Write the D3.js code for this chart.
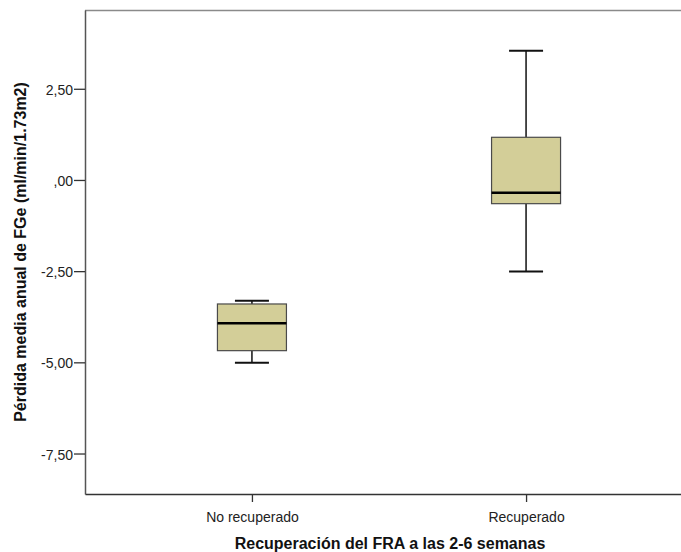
<!DOCTYPE html>
<html>
<head>
<meta charset="utf-8">
<script src="https://cdn.jsdelivr.net/npm/d3@7/dist/d3.min.js"></script>
<style>
  body { margin: 0; background: #fff; }
  svg { display: block; }
</style>
</head>
<body>
<svg id="chart" width="681" height="552"></svg>
<script>
// Groups and box-plot summaries (min, Q1, median, Q3, max)
const categories = ["No recuperado", "Recuperado"];
const whiskerLow  = [-5.01, -2.51];
const quartile1   = [-4.68, -0.65];
const medians     = [-3.93, -0.35];
const quartile3   = [-3.40,  1.17];
const whiskerHigh = [-3.31,  3.54];
const yTicks = [2.5, 0, -2.5, -5, -7.5];
const yTitle = "Pérdida media anual de FGe (ml/min/1.73m2)";
const xTitle = "Recuperación del FRA a las 2-6 semanas";

const boxes = categories.map((c, i) => ({
  cat: c, lo: whiskerLow[i], q1: quartile1[i], med: medians[i], q3: quartile3[i], hi: whiskerHigh[i]
}));

const svg = d3.select("#chart");
const plotLeft = 85, plotTop = 10, plotBottom = 494, plotRight = 693;
const font = "'Liberation Sans', Arial, sans-serif";

const y = d3.scaleLinear().domain([-8.61, 4.66]).range([plotBottom, plotTop]);
const x = d3.scalePoint().domain(categories).range([plotLeft, plotRight]).padding(0.609);

const boxW = 69, capW = 34;

// frame (top border gray, right side runs off the canvas)
svg.append("line").attr("x1", plotLeft).attr("x2", 681).attr("y1", plotTop + 0.5).attr("y2", plotTop + 0.5)
  .attr("stroke", "#8a8a8a").attr("stroke-width", 1.5);

// y axis
const fmt = v => v === 0 ? ",00" : d3.format(".2f")(v).replace("−", "-").replace(".", ",");
const yAxis = svg.append("g").attr("transform", `translate(${plotLeft},0)`)
  .call(d3.axisLeft(y).tickValues(yTicks).tickSize(11).tickSizeOuter(0).tickFormat(fmt));
yAxis.select(".domain").attr("stroke", "#555").attr("stroke-width", 1.5);
yAxis.selectAll(".tick line").attr("stroke", "#333").attr("stroke-width", 1.3);
yAxis.selectAll(".tick text").attr("font-family", font)
  .attr("font-size", 14).attr("fill", "#222").attr("x", -12).attr("dy", "0.4em");

// x axis
const xAxis = svg.append("g").attr("transform", `translate(0,${plotBottom})`)
  .call(d3.axisBottom(x).tickSize(8).tickSizeOuter(0));
xAxis.select(".domain").attr("stroke", "#333").attr("stroke-width", 1.5);
xAxis.selectAll(".tick line").attr("stroke", "#333").attr("stroke-width", 1.3);
xAxis.selectAll(".tick text").attr("font-family", font)
  .attr("font-size", 14).attr("fill", "#222").attr("y", 28).attr("dy", 0);

// box plots
const g = svg.append("g");
const b = g.selectAll("g.box").data(boxes).join("g").attr("class", "box");

b.append("line").attr("x1", d => x(d.cat)).attr("x2", d => x(d.cat))
  .attr("y1", d => y(d.hi)).attr("y2", d => y(d.q3)).attr("stroke", "#111").attr("stroke-width", 1.5);
b.append("line").attr("x1", d => x(d.cat)).attr("x2", d => x(d.cat))
  .attr("y1", d => y(d.q1)).attr("y2", d => y(d.lo)).attr("stroke", "#111").attr("stroke-width", 1.5);
b.append("line").attr("x1", d => x(d.cat) - capW / 2).attr("x2", d => x(d.cat) + capW / 2)
  .attr("y1", d => y(d.hi)).attr("y2", d => y(d.hi)).attr("stroke", "#111").attr("stroke-width", 2);
b.append("line").attr("x1", d => x(d.cat) - capW / 2).attr("x2", d => x(d.cat) + capW / 2)
  .attr("y1", d => y(d.lo)).attr("y2", d => y(d.lo)).attr("stroke", "#111").attr("stroke-width", 2);
b.append("rect").attr("x", d => x(d.cat) - boxW / 2).attr("width", boxW)
  .attr("y", d => y(d.q3)).attr("height", d => y(d.q1) - y(d.q3))
  .attr("fill", "#d3ce98").attr("stroke", "#4a4a4a").attr("stroke-width", 1.2);
b.append("line").attr("x1", d => x(d.cat) - boxW / 2).attr("x2", d => x(d.cat) + boxW / 2)
  .attr("y1", d => y(d.med)).attr("y2", d => y(d.med)).attr("stroke", "#000").attr("stroke-width", 2.5);

// titles
svg.append("text").attr("x", 390).attr("y", 549).attr("text-anchor", "middle")
  .attr("font-family", font).attr("font-weight", "bold")
  .attr("font-size", 16).attr("fill", "#111").text(xTitle);
svg.append("text").attr("transform", `translate(26,${(plotTop + plotBottom) / 2}) rotate(-90)`)
  .attr("text-anchor", "middle")
  .attr("font-family", font).attr("font-weight", "bold")
  .attr("font-size", 16).attr("fill", "#111").text(yTitle);
</script>
</body>
</html>
